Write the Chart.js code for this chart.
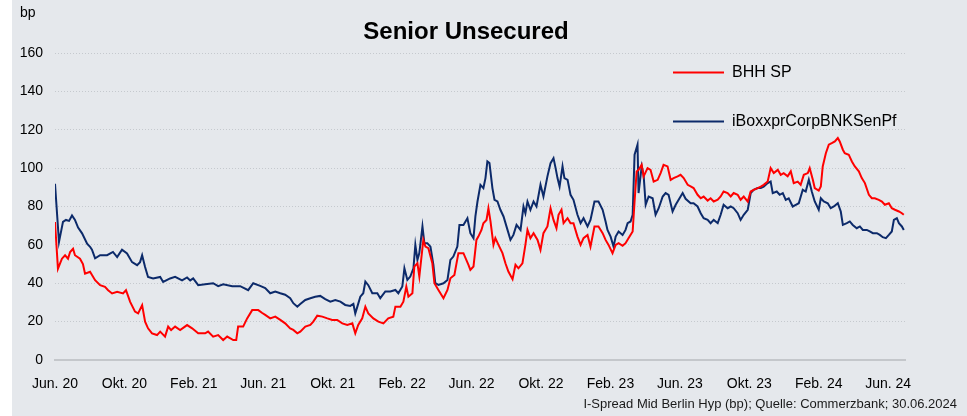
<!DOCTYPE html>
<html lang="de">
<head>
<meta charset="utf-8">
<title>Senior Unsecured</title>
<script src="https://cdn.jsdelivr.net/npm/chart.js@4/dist/chart.umd.min.js"></script>
<style>
  html, body { margin: 0; padding: 0; background: #fff; }
  body { width: 967px; height: 416px; position: relative; overflow: hidden; font-family: "Liberation Sans", Arial, sans-serif; }
  .chart-box { position: absolute; left: 12px; top: 0; width: 955px; height: 416px; background: #e5e8ec; }
  .chart-box canvas { position: absolute; left: 0; top: 0; }
  .chart-title { position: absolute; left: 0; width: 908px; top: 17px; text-align: center; font-size: 24px; font-weight: bold; color: #000; }
  .chart-unit { position: absolute; left: 8px; top: 4px; font-size: 14px; color: #000; }
  .chart-source { position: absolute; right: 10px; top: 396px; font-size: 13px; color: #1a1a1a; }
</style>
</head>
<body>
<div class="chart-box">
  <canvas id="spreadChart" width="955" height="416"></canvas>
  <div class="chart-unit">bp</div>
  <div class="chart-title">Senior Unsecured</div>
  <div class="chart-source">I-Spread Mid Berlin Hyp (bp); Quelle: Commerzbank; 30.06.2024</div>
</div>
<script>
// x values are months since 1 June 2020
const tickLabels = ['Jun. 20', 'Okt. 20', 'Feb. 21', 'Jun. 21', 'Okt. 21', 'Feb. 22', 'Jun. 22',
  'Okt. 22', 'Feb. 23', 'Jun. 23', 'Okt. 23', 'Feb. 24', 'Jun. 24'];
const tickMonths = [0, 4, 8, 12, 16, 20, 24, 28, 32, 36, 40, 44, 48];
const lastMonth = 48.97; // 30.06.2024

// BHH SP
const bhhX = [0.00, 0.17, 0.40, 0.58, 0.75, 0.87, 1.04, 1.15, 1.44, 1.61, 1.73, 2.02, 2.31, 2.60, 2.88, 3.06,
  3.29, 3.58, 3.92, 4.09, 4.33, 4.61, 4.79, 5.02, 5.19, 5.36, 5.59, 5.88, 6.06, 6.34, 6.52, 6.69, 6.92, 7.21,
  7.61, 7.90, 8.25, 8.65, 8.82, 9.11, 9.40, 9.69, 9.92, 10.27, 10.44, 10.55, 10.84, 11.07, 11.36, 11.71, 11.94,
  12.11, 12.40, 12.69, 12.98, 13.26, 13.55, 13.73, 13.96, 14.13, 14.42, 14.71, 14.88, 15.11, 15.40, 15.69,
  15.97, 16.26, 16.55, 16.84, 17.13, 17.30, 17.47, 17.70, 17.88, 18.05, 18.34, 18.63, 18.92, 19.20, 19.49,
  19.61, 19.90, 20.07, 20.24, 20.36, 20.59, 20.70, 20.88, 20.99, 21.22, 21.34, 21.51, 21.74, 21.86, 22.09,
  22.38, 22.61, 22.78, 23.01, 23.24, 23.53, 23.82, 23.93, 24.11, 24.28, 24.39, 24.57, 24.68, 24.86, 24.97,
  25.09, 25.26, 25.37, 25.55, 25.78, 25.95, 26.12, 26.36, 26.53, 26.70, 26.93, 27.10, 27.22, 27.39, 27.57,
  27.80, 27.97, 28.14, 28.37, 28.55, 28.72, 28.89, 29.01, 29.18, 29.30, 29.53, 29.70, 29.87, 30.10, 30.28,
  30.45, 30.68, 30.85, 31.08, 31.31, 31.55, 31.72, 31.89, 32.12, 32.30, 32.47, 32.70, 32.87, 33.04, 33.28,
  33.39, 33.51, 33.62, 33.80, 33.91, 34.14, 34.31, 34.49, 34.72, 34.89, 35.06, 35.29, 35.47, 35.64, 35.87,
  36.04, 36.22, 36.45, 36.62, 36.79, 37.02, 37.20, 37.37, 37.60, 37.77, 37.95, 38.18, 38.35, 38.52, 38.75,
  38.93, 39.10, 39.33, 39.50, 39.68, 39.91, 40.08, 40.25, 40.48, 40.66, 40.83, 41.06, 41.23, 41.41, 41.64,
  41.81, 41.98, 42.21, 42.39, 42.56, 42.79, 42.96, 43.14, 43.37, 43.48, 43.66, 43.77, 44.00, 44.12, 44.23,
  44.41, 44.58, 44.75, 44.93, 45.10, 45.21, 45.39, 45.50, 45.73, 45.91, 46.08, 46.31, 46.48, 46.66, 46.89,
  47.06, 47.23, 47.46, 47.64, 47.81, 48.04, 48.21, 48.39, 48.62, 48.79, 48.90];
const bhhValues = [71.9, 47.6, 52.8, 54.6, 52.8, 56.3, 58.0, 54.6, 52.8, 50.0, 45.0, 46.0, 41.6, 39.0, 38.1, 36.4,
  34.7, 35.5, 34.7, 36.4, 30.3, 25.2, 24.3, 28.6, 20.0, 16.5, 13.9, 13.0, 14.8, 12.2, 17.4, 15.6, 17.4, 15.6,
  18.2, 16.5, 13.9, 13.9, 14.8, 12.2, 13.0, 10.4, 12.2, 10.4, 10.4, 17.4, 17.4, 21.7, 26.0, 26.0, 24.5,
  23.5, 21.7, 22.6, 20.9, 19.1, 16.5, 15.7, 13.9, 14.8, 17.4, 18.3, 20.0, 23.1, 22.6, 21.7,
  20.9, 20.9, 19.1, 18.3, 19.1, 13.9, 18.3, 21.7, 27.8, 24.3, 21.7, 20.0, 19.1, 21.7, 22.6,
  27.8, 27.8, 30.4, 38.3, 33.0, 34.8, 48.7, 50.4, 43.5, 62.6, 59.1, 58.3, 50.4, 40.0, 36.5,
  32.2, 36.5, 42.6, 44.3, 55.7, 55.7, 49.6, 47.0, 48.7, 62.6, 64.3, 67.8, 71.3, 73.0, 79.1,
  72.2, 60.0, 63.5, 60.0, 55.7, 50.4, 46.1, 42.1, 49.6, 47.8, 50.4, 60.0, 67.8, 63.5, 66.1,
  62.6, 57.4, 66.1, 69.6, 79.1, 73.0, 68.7, 75.7, 78.3, 71.3, 73.9, 71.3, 71.3, 64.3, 60.0,
  63.5, 65.2, 59.1, 69.6, 69.6, 66.1, 62.6, 60.0, 55.7, 60.0, 60.9, 59.5, 60.9, 63.5, 67.0,
  82.6, 98.3, 99.1, 101.7, 95.7, 100.0, 99.1, 93.0, 93.9, 97.4, 101.7, 100.9, 93.9, 94.8, 95.7,
  96.5, 94.8, 91.3, 90.5, 89.6, 86.1, 84.3, 85.2, 83.1, 84.3, 82.6, 83.5, 85.2, 87.8, 87.0,
  85.2, 87.0, 86.1, 83.5, 85.2, 82.6, 87.8, 88.7, 89.6, 90.4, 91.3, 93.0, 100.0, 97.4, 99.1,
  96.5, 97.4, 95.7, 98.3, 92.2, 93.0, 91.3, 96.5, 97.4, 100.0, 93.9, 89.6, 88.3, 90.4, 100.9,
  107.8, 112.2, 113.0, 113.9, 115.7, 113.9, 109.6, 107.8, 107.0, 103.5, 100.9, 98.3, 94.8, 92.2, 86.1,
  84.3, 84.3, 83.5, 82.6, 80.9, 81.7, 79.1, 78.3, 77.4, 76.5, 75.7];

// iBoxxprCorpBNKSenPf
const iboxxX = [0.00, 0.23, 0.46, 0.63, 0.81, 0.98, 1.15, 1.33, 1.56, 1.85, 2.02, 2.13, 2.31, 2.60, 3.00, 3.34,
  3.58, 3.86, 4.15, 4.44, 4.73, 4.90, 5.02, 5.19, 5.36, 5.65, 6.06, 6.23, 6.63, 6.92, 7.32, 7.61, 7.79, 7.96,
  8.25, 8.65, 9.11, 9.40, 9.69, 10.21, 10.67, 11.13, 11.42, 11.82, 12.11, 12.40, 12.69, 12.98, 13.26, 13.55,
  13.73, 13.96, 14.13, 14.42, 14.71, 14.99, 15.28, 15.57, 15.86, 16.15, 16.44, 16.72, 17.01, 17.19, 17.30,
  17.42, 17.59, 17.76, 17.88, 18.05, 18.28, 18.57, 18.74, 19.03, 19.32, 19.61, 19.78, 20.01, 20.13, 20.30,
  20.47, 20.65, 20.76, 20.88, 20.99, 21.17, 21.28, 21.45, 21.63, 21.80, 21.91, 22.09, 22.38, 22.61, 22.78,
  22.95, 23.18, 23.30, 23.53, 23.76, 23.93, 24.11, 24.22, 24.34, 24.51, 24.68, 24.80, 24.91, 25.03, 25.20,
  25.32, 25.49, 25.66, 25.84, 26.07, 26.24, 26.41, 26.59, 26.82, 26.99, 27.10, 27.22, 27.39, 27.57, 27.74,
  27.97, 28.14, 28.37, 28.55, 28.72, 28.84, 28.95, 29.07, 29.24, 29.35, 29.53, 29.70, 29.87, 30.10, 30.28,
  30.45, 30.68, 30.85, 31.08, 31.31, 31.55, 31.72, 31.83, 32.01, 32.18, 32.30, 32.47, 32.70, 32.87, 32.99,
  33.16, 33.28, 33.39, 33.56, 33.62, 33.80, 33.91, 34.03, 34.20, 34.43, 34.60, 34.78, 35.01, 35.18, 35.35,
  35.58, 35.76, 35.93, 36.16, 36.33, 36.62, 36.79, 37.02, 37.20, 37.37, 37.60, 37.77, 37.95, 38.18, 38.35,
  38.52, 38.75, 38.93, 39.10, 39.33, 39.50, 39.68, 39.91, 40.08, 40.25, 40.48, 40.66, 40.83, 41.06, 41.23,
  41.35, 41.58, 41.75, 41.93, 42.10, 42.27, 42.50, 42.68, 42.85, 43.08, 43.25, 43.43, 43.60, 43.77, 44.00,
  44.12, 44.29, 44.52, 44.69, 44.87, 45.10, 45.27, 45.39, 45.62, 45.79, 45.96, 46.19, 46.37, 46.54, 46.77,
  46.94, 47.12, 47.35, 47.52, 47.69, 47.87, 48.04, 48.21, 48.33, 48.50, 48.62, 48.79, 48.90];
const iboxxValues = [91.8, 61.5, 72.0, 73.0, 72.5, 75.3, 73.0, 69.0, 66.0, 60.6, 59.0, 57.5, 53.0, 54.6, 54.6, 56.3,
  53.6, 57.5, 55.5, 51.0, 49.4, 51.0, 54.6, 48.5, 43.3, 42.5, 43.3, 40.7, 42.5, 43.3, 41.5, 43.0, 41.5, 42.5,
  39.0, 39.5, 40.0, 38.5, 39.5, 38.5, 38.5, 36.4, 40.0, 38.6, 37.5, 34.8, 35.7, 34.8, 34.0, 32.2,
  29.6, 27.8, 29.2, 31.3, 32.2, 33.0, 33.4, 31.7, 30.4, 31.3, 30.4, 28.7, 28.2, 29.2, 24.3,
  27.8, 33.0, 34.8, 40.9, 39.0, 34.8, 34.8, 32.2, 35.7, 35.7, 36.5, 34.8, 38.3, 47.8, 41.7,
  43.5, 47.8, 60.0, 52.2, 55.7, 69.6, 60.9, 60.9, 59.1, 49.6, 40.0, 39.1, 40.0, 41.7, 52.2,
  53.9, 59.1, 70.4, 70.4, 73.9, 66.1, 63.5, 74.8, 82.6, 91.3, 89.6, 94.8, 103.5, 102.6, 89.6,
  83.5, 82.6, 78.3, 74.8, 67.8, 62.6, 65.2, 70.4, 67.8, 80.0, 76.5, 82.6, 78.3, 82.6, 80.0,
  91.3, 85.2, 95.7, 102.6, 105.2, 100.0, 94.8, 90.4, 100.9, 94.8, 93.9, 86.1, 83.5, 75.7, 71.3,
  73.9, 69.6, 73.0, 82.6, 82.6, 78.3, 72.2, 67.8, 64.3, 59.1, 64.3, 67.0, 65.2, 67.8, 71.3,
  72.2, 75.7, 107.0, 112.2, 87.0, 100.9, 96.5, 80.9, 85.2, 84.3, 75.7, 79.1, 85.2, 87.0, 86.1,
  77.4, 80.9, 83.5, 87.0, 84.0, 81.7, 81.7, 80.0, 76.5, 73.9, 73.0, 71.3, 73.0, 71.3, 75.7,
  80.9, 79.1, 80.0, 79.1, 76.5, 73.0, 75.7, 78.3, 87.0, 88.7, 89.6, 89.6, 90.4, 92.2, 93.0,
  87.0, 87.8, 86.1, 87.0, 83.5, 84.3, 80.0, 80.9, 81.7, 88.7, 87.8, 93.9, 87.8, 82.6, 78.3,
  84.3, 82.6, 81.7, 79.1, 80.0, 81.7, 77.4, 70.4, 71.3, 72.2, 70.4, 68.7, 69.6, 67.8, 67.8,
  67.0, 66.1, 66.1, 65.2, 64.0, 63.5, 65.2, 67.0, 73.0, 73.9, 71.3, 69.6, 67.8];

const yTicks = [0, 20, 40, 60, 80, 100, 120, 140, 160];

// Turn x/y arrays into point objects
function toPoints(xs, ys) {
  return xs.map((x, i) => ({ x: x, y: ys[i] }));
}

// Legend in the upper right, lines drawn with the dataset colours
const legendPlugin = {
  id: 'sideLegend',
  afterDraw(chart) {
    const ctx = chart.ctx;
    const startX = 661;
    const rows = [72.5, 121.5];
    ctx.save();
    ctx.font = '16px "Liberation Sans", Arial, sans-serif';
    ctx.textBaseline = 'middle';
    chart.data.datasets.forEach((ds, i) => {
      const y = rows[i];
      ctx.strokeStyle = ds.borderColor;
      ctx.lineWidth = 2;
      ctx.beginPath();
      ctx.moveTo(startX, y);
      ctx.lineTo(startX + 51, y);
      ctx.stroke();
      ctx.fillStyle = '#000';
      ctx.fillText(ds.label, startX + 59, y);
    });
    ctx.restore();
  }
};

function renderSpreadChart() {
  const ctx = document.getElementById('spreadChart');

  new Chart(ctx, {
    type: 'line',
    data: {
      datasets: [
        {
          label: 'BHH SP',
          data: toPoints(bhhX, bhhValues),
          borderColor: '#ff0000',
          borderWidth: 2,
          pointRadius: 0,
          tension: 0
        },
        {
          label: 'iBoxxprCorpBNKSenPf',
          data: toPoints(iboxxX, iboxxValues),
          borderColor: '#0c2a6a',
          borderWidth: 2,
          pointRadius: 0,
          tension: 0
        }
      ]
    },
    options: {
      responsive: false,
      animation: false,
      devicePixelRatio: 1,
      layout: {
        padding: { top: 53, right: 62, bottom: 0, left: 0 }
      },
      plugins: {
        legend: { display: false },
        tooltip: { enabled: false }
      },
      scales: {
        x: {
          type: 'linear',
          min: 0,
          max: lastMonth,
          afterFit: (scale) => { scale.height = 56; },
          afterBuildTicks: (scale) => {
            scale.ticks = tickMonths.map(v => ({ value: v }));
          },
          ticks: {
            autoSkip: false,
            maxRotation: 0,
            padding: 16,
            color: '#000',
            font: { family: '"Liberation Sans", Arial, sans-serif', size: 14 },
            callback: (value) => tickLabels[tickMonths.indexOf(value)]
          },
          grid: { display: false, drawTicks: false },
          border: { display: true, color: '#c4c7cb', width: 2 }
        },
        y: {
          min: 0,
          max: 160,
          afterFit: (scale) => { scale.width = 43; },
          afterBuildTicks: (scale) => {
            scale.ticks = yTicks.map(v => ({ value: v }));
          },
          ticks: {
            padding: 12,
            color: '#000',
            font: { family: '"Liberation Sans", Arial, sans-serif', size: 14 }
          },
          grid: {
            drawTicks: false,
            color: (c) => (c.tick && c.tick.value === 0) ? 'rgba(0,0,0,0)' : '#c5c9ce',
            lineWidth: 1
          },
          border: { display: false, dash: [1, 2] }
        }
      }
    },
    plugins: [legendPlugin]
  });
}

document.addEventListener('DOMContentLoaded', renderSpreadChart);
</script>
</body>
</html>
